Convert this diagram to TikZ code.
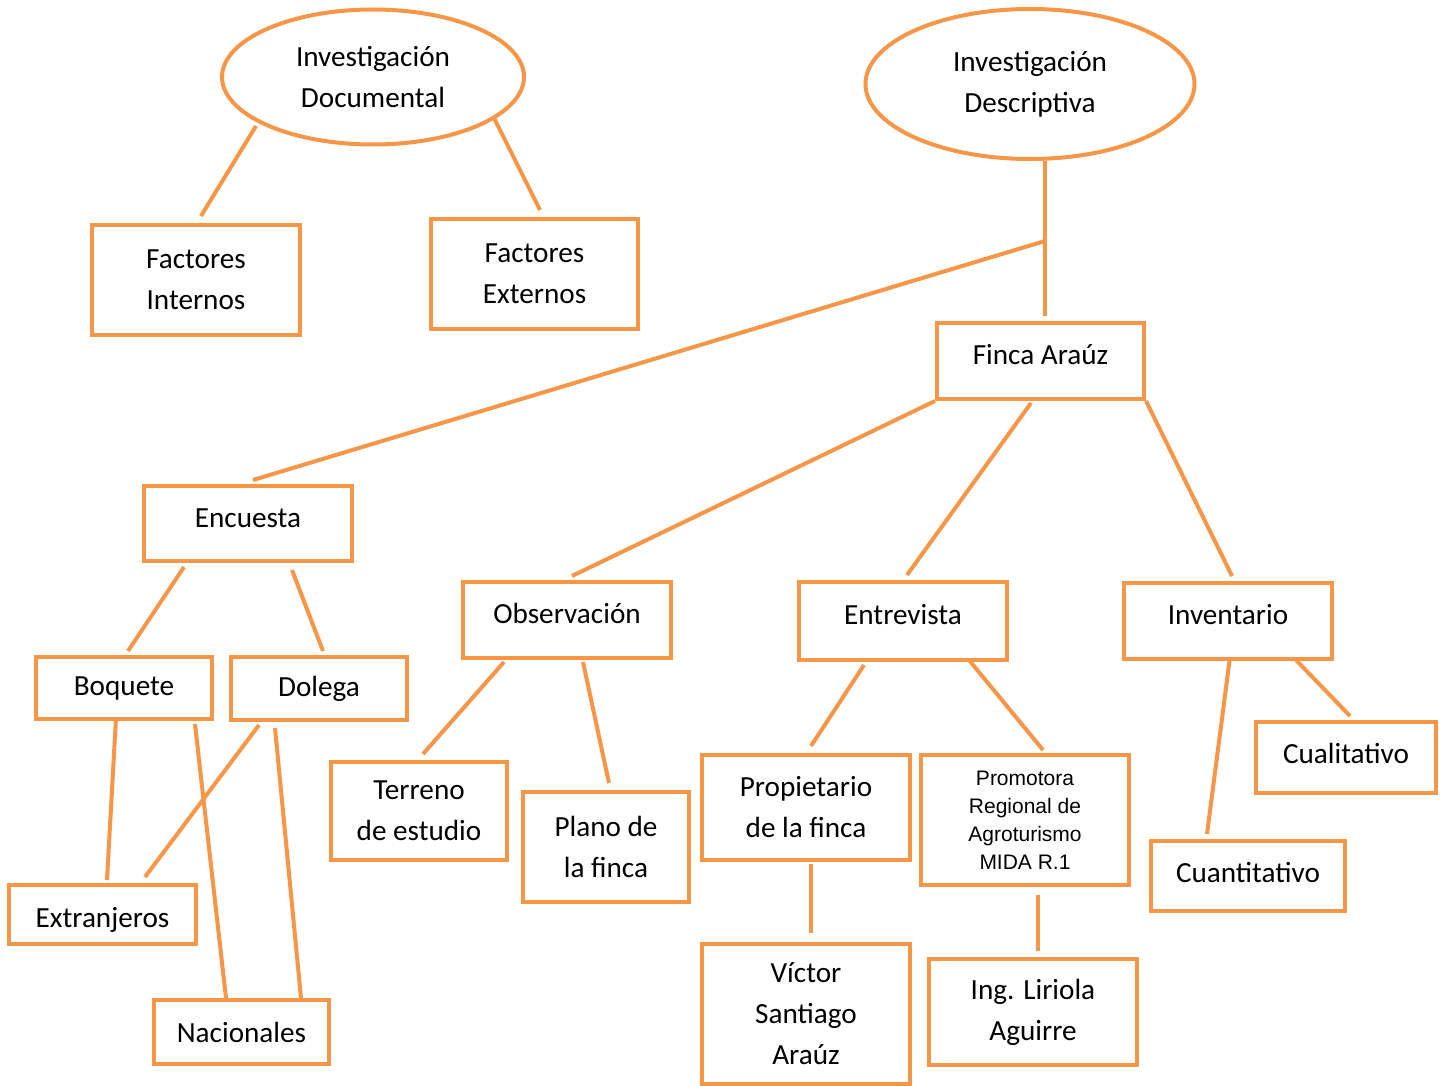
\documentclass[tikz,border=0pt]{standalone}
\usepackage{fontspec}
\setmainfont{Carlito}
\newfontfamily\arialfont{Liberation Sans}
\usetikzlibrary{shapes.geometric,calc}
\definecolor{orng}{HTML}{F79646}
\begin{document}
\begin{tikzpicture}[x=0.5pt,y=-0.5pt,
  every node/.style={font=\fontsize{14.6}{20.5}\selectfont, align=center, inner sep=0pt},
  oval/.style={draw=orng, line width=2pt, ellipse},
  tbox/.style={draw=orng, line width=2pt, rectangle},
  high/.style={text height=10pt, text depth=6.4pt},
  mid/.style={text height=10pt, text depth=3.9pt},
  low/.style={text height=16pt, text depth=3pt},
  link/.style={draw=orng, line width=2pt}]
\useasboundingbox (0,0) rectangle (1445,1086);
% ellipses
\node[oval, minimum width=151pt, minimum height=67.5pt] (IDoc) at (373,77) {Investigación\\Documental};
\node[oval, minimum width=164.5pt, minimum height=75pt] (IDesc) at (1030,84) {Investigación\\Descriptiva};
% boxes
\node[tbox, minimum width=104pt, minimum height=55pt] (FInt) at (196,280) {Factores\\Internos};
\node[tbox, minimum width=103.5pt, minimum height=55pt] (FExt) at (534.5,274) {Factores\\Externos};
\node[tbox, high, minimum width=103.5pt, minimum height=38pt] (Finca) at (1040.5,361) {Finca Araúz};
\node[tbox, high, minimum width=104pt, minimum height=37.5pt] (Encuesta) at (248,523.5) {Encuesta};
\node[tbox, minimum width=88pt, minimum height=31pt] (Boquete) at (124,688) {Boquete};
\node[tbox, minimum width=88pt, minimum height=31.5pt] (Dolega) at (319,688.5) {Dolega};
\node[tbox, low, minimum width=93.5pt, minimum height=29.5pt] (Extranj) at (102.5,914.5) {Extranjeros};
\node[tbox, minimum width=87.5pt, minimum height=32pt] (Nacion) at (241.5,1032) {Nacionales};
\node[tbox, high, minimum width=104pt, minimum height=38pt] (Obs) at (567,620) {Observación};
\node[tbox, minimum width=88pt, minimum height=49pt] (Terreno) at (419,811) {Terreno\\de estudio};
\node[tbox, minimum width=83pt, minimum height=55pt] (Plano) at (606,847) {Plano de\\la finca};
\node[tbox, high, minimum width=104pt, minimum height=39pt] (Entrev) at (903,621) {Entrevista};
\node[tbox, minimum width=104pt, minimum height=52.5pt] (Propiet) at (806,807.5) {Propietario\\de la finca};
\node[tbox, minimum width=104pt, minimum height=65pt, font=\arialfont\fontsize{10.5}{14}\selectfont] (Promot) at (1025,820) {Promotora\\Regional de\\Agroturismo\\MIDA R.1};
\node[tbox, minimum width=104pt, minimum height=70pt] (Victor) at (806,1014) {Víctor\\Santiago\\Araúz};
\node[tbox, minimum width=104pt, minimum height=53pt] (Ing) at (1033,1012) {Ing. Liriola\\Aguirre};
\node[tbox, high, minimum width=104pt, minimum height=38pt] (Invent) at (1228,621) {Inventario};
\node[tbox, mid, minimum width=90pt, minimum height=35.5pt] (Cual) at (1346,757.5) {Cualitativo};
\node[tbox, mid, minimum width=97pt, minimum height=35pt] (Cuant) at (1248,876) {Cuantitativo};
\coordinate (split) at ($(IDesc.south)+(15,80)$);
% links
\draw[link] ($(IDoc)+(-117,49)$) -- ($(FInt.north)+(5,-7)$);
\draw[link] ($(IDoc)+(121,41)$) -- ($(FExt.north)+(5.5,-7)$);
\draw[link] ($(IDesc.south)+(15,0)$) -- ($(Finca.north)+(4.5,-5)$);
\draw[link] (split) -- ($(Encuesta.north)+(5,-4)$);
\draw[link] (Finca.south west) -- ($(Obs.north)+(5,-4)$);
\draw[link] ($(Finca.south)+(-9.5,2)$) -- ($(Entrev.north)+(4,-5)$);
\draw[link] (Finca.south east) -- ($(Invent.north)+(4,-5)$);
\draw[link] ($(Encuesta.south)+(-64,4)$) -- ($(Boquete.north)+(4,-4)$);
\draw[link] ($(Encuesta.south)+(44,7)$) -- ($(Dolega.north)+(4,-4)$);
\draw[link] ($(Boquete.south)+(-8,-3)$) -- ($(Extranj.north)+(4.5,-3)$);
\draw[link] ($(Boquete.south)+(71,3)$) -- ($(Nacion.north)+(-15.5,0)$);
\draw[link] ($(Dolega.south)+(-60,3)$) -- ($(Extranj.north)+(42.5,-6)$);
\draw[link] ($(Dolega.south)+(-44,6)$) -- ($(Nacion.north)+(59.5,0)$);
\draw[link] ($(Obs.south)+(-63,2)$) -- ($(Terreno.north)+(4,-6)$);
\draw[link] ($(Obs.south)+(16,2)$) -- ($(Plano.north)+(3,-7)$);
\draw[link] ($(Entrev.south)+(-39,3)$) -- ($(Propiet.north)+(5,-7)$);
\draw[link] ($(Entrev.south)+(66,-2)$) -- ($(Promot.north)+(18,-3)$);
\draw[link] ($(Propiet.south)+(5,2)$) -- ($(Victor.north)+(5,-9)$);
\draw[link] ($(Promot.south)+(13,8)$) -- ($(Ing.north)+(5,-6)$);
\draw[link] ($(Invent.south)+(2,-4)$) -- ($(Cuant.north)+(-41,-5)$);
\draw[link] ($(Invent.south)+(68,-1)$) -- ($(Cual.north)+(4,-4)$);
\end{tikzpicture}
\end{document}
